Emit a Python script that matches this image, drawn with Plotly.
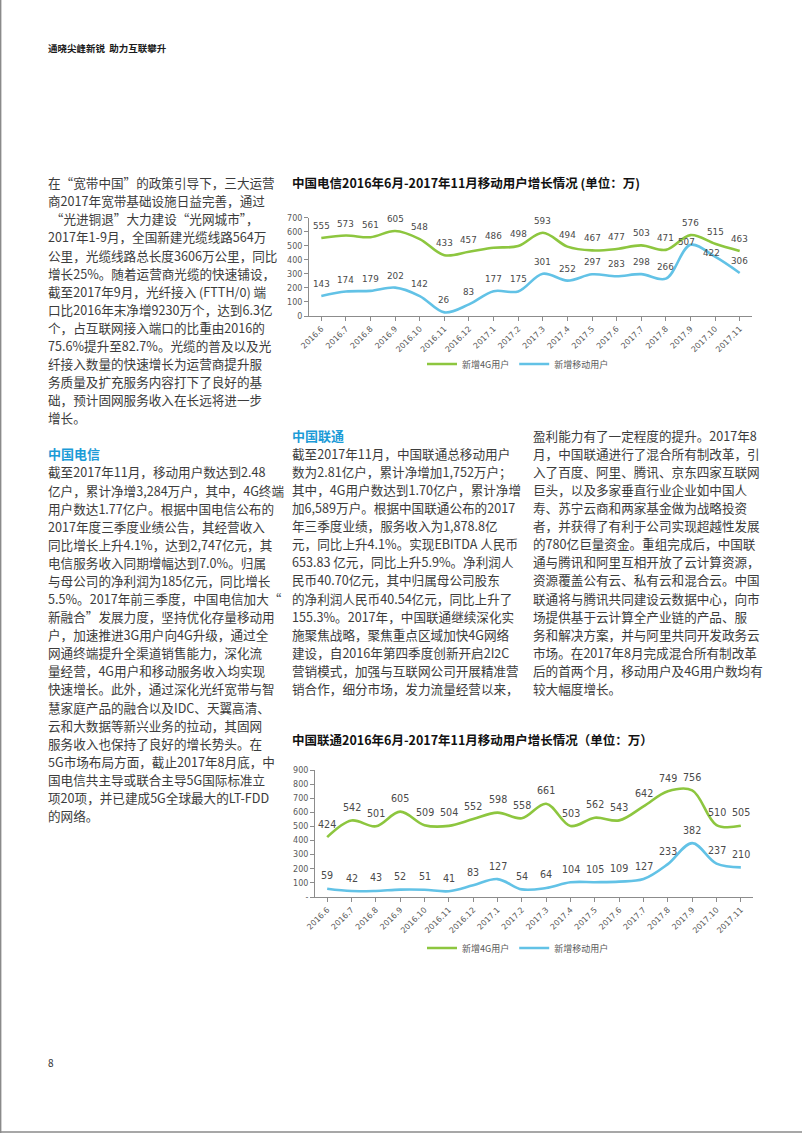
import plotly.graph_objects as go

W, H = 802, 1133

# ---------------- data ----------------
months = ["2016.6", "2016.7", "2016.8", "2016.9", "2016.10", "2016.11", "2016.12",
          "2017.1", "2017.2", "2017.3", "2017.4", "2017.5", "2017.6", "2017.7",
          "2017.8", "2017.9", "2017.10", "2017.11"]

ct_4g = [555, 573, 561, 605, 548, 433, 457, 486, 498, 593, 494, 467, 477, 503, 471, 576, 515, 463]
ct_mobile = [143, 174, 179, 202, 142, 26, 83, 177, 175, 301, 252, 297, 283, 298, 266, 507, 422, 306]

cu_4g = [424, 542, 501, 605, 509, 504, 552, 598, 558, 661, 503, 562, 543, 642, 749, 756, 510, 505]
cu_mobile = [59, 42, 43, 52, 51, 41, 83, 127, 54, 64, 104, 105, 109, 127, 233, 382, 237, 210]

series_names = ["新增4G用户", "新增移动用户"]

ct_title = "中国电信2016年6月-2017年11月移动用户增长情况 (单位：万)"
cu_title = "中国联通2016年6月-2017年11月移动用户增长情况（单位：万）"

ct_yticks = [0, 100, 200, 300, 400, 500, 600, 700]
ct_ytext = ["0", "100", "200", "300", "400", "500", "600", "700"]
cu_yticks = [0, 100, 200, 300, 400, 500, 600, 700, 800, 900]
cu_ytext = ["-", "100", "200", "300", "400", "500", "600", "700", "800", "900"]

page_header = "通晓尖峰新锐  助力互联攀升"
page_number = "8"

intro_lines = [
    "在“宽带中国”的政策引导下，三大运营",
    "商2017年宽带基础设施日益完善，通过",
    " “光进铜退”大力建设“光网城市”，",
    "2017年1-9月，全国新建光缆线路564万",
    "公里，光缆线路总长度3606万公里，同比",
    "增长25%。随着运营商光缆的快速铺设，",
    "截至2017年9月，光纤接入 (FTTH/0) 端",
    "口比2016年末净增9230万个，达到6.3亿",
    "个，占互联网接入端口的比重由2016的",
    "75.6%提升至82.7%。光缆的普及以及光",
    "纤接入数量的快速增长为运营商提升服",
    "务质量及扩充服务内容打下了良好的基",
    "础，预计固网服务收入在长远将进一步",
    "增长。",
]

ct_heading = "中国电信"
ct_lines = [
    "截至2017年11月，移动用户数达到2.48",
    "亿户，累计净增3,284万户，其中，4G终端",
    "用户数达1.77亿户。根据中国电信公布的",
    "2017年度三季度业绩公告，其经营收入",
    "同比增长上升4.1%，达到2,747亿元，其",
    "电信服务收入同期增幅达到7.0%。归属",
    "与母公司的净利润为185亿元，同比增长",
    "5.5%。2017年前三季度，中国电信加大“",
    "新融合”发展力度，坚持优化存量移动用",
    "户，加速推进3G用户向4G升级，通过全",
    "网通终端提升全渠道销售能力，深化流",
    "量经营，4G用户和移动服务收入均实现",
    "快速增长。此外，通过深化光纤宽带与智",
    "慧家庭产品的融合以及IDC、天翼高清、",
    "云和大数据等新兴业务的拉动，其固网",
    "服务收入也保持了良好的增长势头。在",
    "5G市场布局方面，截止2017年8月底，中",
    "国电信共主导或联合主导5G国际标准立",
    "项20项，并已建成5G全球最大的LT-FDD",
    "的网络。",
]

cu_heading = "中国联通"
cu_lines_a = [
    "截至2017年11月，中国联通总移动用户",
    "数为2.81亿户，累计净增加1,752万户；",
    "其中，4G用户数达到1.70亿户，累计净增",
    "加6,589万户。根据中国联通公布的2017",
    "年三季度业绩，服务收入为1,878.8亿",
    "元，同比上升4.1%。实现EBITDA 人民币",
    "653.83 亿元，同比上升5.9%。净利润人",
    "民币40.70亿元，其中归属母公司股东",
    "的净利润人民币40.54亿元，同比上升了",
    "155.3%。2017年，中国联通继续深化实",
    "施聚焦战略，聚焦重点区域加快4G网络",
    "建设，自2016年第四季度创新开启2I2C",
    "营销模式，加强与互联网公司开展精准营",
    "销合作，细分市场，发力流量经营以来，",
]
cu_lines_b = [
    "盈利能力有了一定程度的提升。2017年8",
    "月，中国联通进行了混合所有制改革，引",
    "入了百度、阿里、腾讯、京东四家互联网",
    "巨头，以及多家垂直行业企业如中国人",
    "寿、苏宁云商和两家基金做为战略投资",
    "者，并获得了有利于公司实现超越性发展",
    "的780亿巨量资金。重组完成后，中国联",
    "通与腾讯和阿里互相开放了云计算资源，",
    "资源覆盖公有云、私有云和混合云。中国",
    "联通将与腾讯共同建设云数据中心，向市",
    "场提供基于云计算全产业链的产品、服",
    "务和解决方案，并与阿里共同开发政务云",
    "市场。在2017年8月完成混合所有制改革",
    "后的首两个月，移动用户及4G用户数均有",
    "较大幅度增长。",
]

# ---------------- style ----------------
GREEN = "#8DC63F"
BLUE = "#62C2E6"
AXIS = "#8C8C8C"
TICK_TXT = "#595959"
LBL_TXT = "#4A4A4A"
BODY = "#3C3C3C"
HEAD_BLUE = "#1B9BD7"
CJK = "Noto Sans CJK SC"
NUM = "DejaVu Sans"


def px(x):
    return x / W


def py(y):
    return 1 - y / H


fig = go.Figure()

idx = list(range(len(months)))

# chart 1 (China Telecom)
fig.add_trace(go.Scatter(x=idx, y=ct_4g, name=series_names[0], mode="lines",
                         line=dict(color=GREEN, width=2.6, shape="spline", smoothing=1.0),
                         xaxis="x", yaxis="y", legend="legend", hoverinfo="skip"))
fig.add_trace(go.Scatter(x=idx, y=ct_mobile, name=series_names[1], mode="lines",
                         line=dict(color=BLUE, width=2.6, shape="spline", smoothing=1.0),
                         xaxis="x", yaxis="y", legend="legend", hoverinfo="skip"))
# chart 2 (China Unicom)
fig.add_trace(go.Scatter(x=idx, y=cu_4g, name=series_names[0], mode="lines",
                         line=dict(color=GREEN, width=2.6, shape="spline", smoothing=1.0),
                         xaxis="x2", yaxis="y2", legend="legend2", hoverinfo="skip"))
fig.add_trace(go.Scatter(x=idx, y=cu_mobile, name=series_names[1], mode="lines",
                         line=dict(color=BLUE, width=2.6, shape="spline", smoothing=1.0),
                         xaxis="x2", yaxis="y2", legend="legend2", hoverinfo="skip"))

annotations = []

# data labels, placed through the axes
special = {("ctm", 15): (-4, 3), ("ctm", 16): (-4, 4)}


def add_labels(vals, key, xref, yref, size, default_shift):
    for i, v in enumerate(vals):
        xs, ys = special.get((key, i), (0, default_shift))
        annotations.append(dict(x=i, y=v, xref=xref, yref=yref, text=str(v),
                                showarrow=False, xshift=xs, yshift=ys,
                                font=dict(family=NUM, size=size, color=LBL_TXT)))


add_labels(ct_4g, "ct4", "x", "y", 8.8, 12)
add_labels(ct_mobile, "ctm", "x", "y", 8.8, 12)
add_labels(cu_4g, "cu4", "x2", "y2", 9.6, 13)
add_labels(cu_mobile, "cum", "x2", "y2", 9.6, 13)

# chart titles
annotations.append(dict(x=px(290), y=py(182.5), xref="paper", yref="paper", text="<b>" + ct_title + "</b>",
                        showarrow=False, xanchor="left", yanchor="middle",
                        font=dict(family=CJK, size=12.5, color="#111111")))
annotations.append(dict(x=px(290), y=py(739), xref="paper", yref="paper", text="<b>" + cu_title + "</b>",
                        showarrow=False, xanchor="left", yanchor="middle",
                        font=dict(family=CJK, size=12.5, color="#111111")))

# page header / number
annotations.append(dict(x=px(46), y=py(48), xref="paper", yref="paper", text="<b>" + page_header + "</b>",
                        showarrow=False, xanchor="left", yanchor="middle",
                        font=dict(family=CJK, size=9.5, color="#1A1A1A")))
annotations.append(dict(x=px(46), y=py(1062), xref="paper", yref="paper", text=page_number,
                        showarrow=False, xanchor="left", yanchor="middle",
                        font=dict(family=CJK, size=10, color="#333333")))

LH = 18.08
BODY_SIZE = 12.6


def add_block(lines, x0, y0, color=BODY, bold=False, size=BODY_SIZE):
    for k, t in enumerate(lines):
        annotations.append(dict(x=px(x0), y=py(y0 + k * LH), xref="paper", yref="paper",
                                text=("<b>%s</b>" % t) if bold else t,
                                showarrow=False, xanchor="left", yanchor="middle",
                                font=dict(family=CJK, size=size, color=color)))


add_block(intro_lines, 46, 182.7)
add_block([ct_heading], 46, 182.7 + 15 * LH, color=HEAD_BLUE, bold=True, size=13)
add_block(ct_lines, 46, 182.7 + 16 * LH)
add_block([cu_heading], 290, 435.3, color=HEAD_BLUE, bold=True, size=13)
add_block(cu_lines_a, 290, 435.3 + LH)
add_block(cu_lines_b, 531, 435.3)

axis_common = dict(showline=True, linecolor=AXIS, linewidth=1, ticks="outside", ticklen=4,
                   tickcolor=AXIS, showgrid=False, zeroline=False, automargin=False,
                   tickfont=dict(family=NUM, size=8, color=TICK_TXT))

xaxis_common = dict(tickmode="array", tickvals=idx, ticktext=months, tickangle=-45,
                    range=[-0.5, len(months) - 0.5], **axis_common)

legend_common = dict(orientation="h", xanchor="left", yanchor="middle",
                     font=dict(family=CJK, size=9, color=TICK_TXT), bgcolor="rgba(0,0,0,0)",
                     itemwidth=30, traceorder="normal")

fig.update_layout(
    template="none",
    width=W, height=H, autosize=False,
    margin=dict(l=0, r=0, t=0, b=0, pad=0, autoexpand=False),
    paper_bgcolor="white", plot_bgcolor="white",
    xaxis=dict(domain=[px(309), px(752)], anchor="y", **xaxis_common),
    yaxis=dict(domain=[py(316), py(217.7)], anchor="x", range=[0, 700],
               tickvals=ct_yticks, ticktext=ct_ytext, **axis_common),
    xaxis2=dict(domain=[px(315), px(753)], anchor="y2", **xaxis_common),
    yaxis2=dict(domain=[py(897), py(770)], anchor="x2", range=[0, 900],
                tickvals=cu_yticks, ticktext=cu_ytext, **axis_common),
    legend=dict(x=px(422), y=py(364), **legend_common),
    legend2=dict(x=px(422), y=py(948), **legend_common),
    annotations=annotations,
    shapes=[
        dict(type="line", xref="paper", yref="paper", x0=0.0008, x1=0.0008, y0=0, y1=1,
             line=dict(color="#8A8A8A", width=1.5)),
        dict(type="line", xref="paper", yref="paper", x0=0, x1=1, y0=0.0008, y1=0.0008,
             line=dict(color="#8A8A8A", width=1.5)),
    ],
    showlegend=True,
)

fig.write_html("out.html", config={"displayModeBar": False},
               post_script="document.body.style.margin='0';")
